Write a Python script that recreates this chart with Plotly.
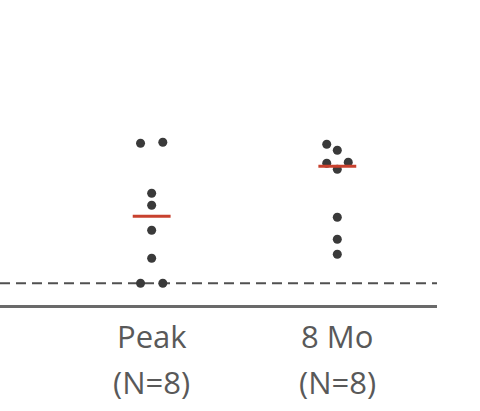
import plotly.graph_objects as go

# ---- data ----
groups = ["Peak", "8 Mo"]
group_n = ["(N=8)", "(N=8)"]
peak_values = [14.0, 14.1, 9.0, 7.8, 5.3, 2.5, 0.0, 0.0]
peak_jitter = [-0.06, 0.06, 0.0, 0.0, 0.0, 0.0, -0.06, 0.06]
mo8_values = [13.9, 13.3, 12.0, 12.1, 11.4, 6.6, 4.4, 2.9]
mo8_jitter = [-0.057, 0.0, -0.057, 0.059, 0.0, 0.0, 0.0, 0.0]
medians = [6.7, 11.7]
detection_limit = 0.0

dot_color = "#3a3a3a"
median_color = "#c8412e"
text_color = "#595959"

fig = go.Figure()

all_values = [peak_values, mo8_values]
all_jitter = [peak_jitter, mo8_jitter]
for gi, (vals, jit) in enumerate(zip(all_values, all_jitter)):
    fig.add_trace(go.Scatter(
        x=[gi + j for j in jit], y=vals, mode="markers",
        marker=dict(size=9, color=dot_color),
        showlegend=False, hoverinfo="skip"))

for gi, m in enumerate(medians):
    fig.add_trace(go.Scatter(
        x=[gi - 0.102, gi + 0.102], y=[m, m], mode="lines",
        line=dict(color=median_color, width=3),
        showlegend=False, hoverinfo="skip"))

# limit of detection dashed line
fig.add_shape(type="line", xref="paper", x0=0, x1=1, yref="y",
              y0=detection_limit, y1=detection_limit,
              line=dict(color="#505050", width=2, dash="10px,6px"),
              layer="below")

# category labels
for gi, (g, n) in enumerate(zip(groups, group_n)):
    fig.add_annotation(x=gi, y=0, xref="x", yref="paper", text=g,
                       showarrow=False, yanchor="top", yshift=-8,
                       font=dict(family="Open Sans", size=31, color=text_color))
    fig.add_annotation(x=gi, y=0, xref="x", yref="paper", text=n,
                       showarrow=False, yanchor="top", yshift=-54,
                       font=dict(family="Open Sans", size=31, color=text_color))

fig.update_layout(
    width=480, height=411,
    margin=dict(l=0, r=43, t=0, b=106),
    paper_bgcolor="white", plot_bgcolor="white",
    xaxis=dict(range=[-0.817, 1.537], showgrid=False, zeroline=False,
               showticklabels=False, ticks="", showline=True,
               linecolor="#6a6a6a", linewidth=3),
    yaxis=dict(range=[-2.17, 28.33], showgrid=False, zeroline=False,
               showticklabels=False, ticks="", showline=False),
)

fig.write_html("out.html", config={"displayModeBar": False},
               post_script="document.body.style.margin='0';document.body.style.overflow='hidden';")
